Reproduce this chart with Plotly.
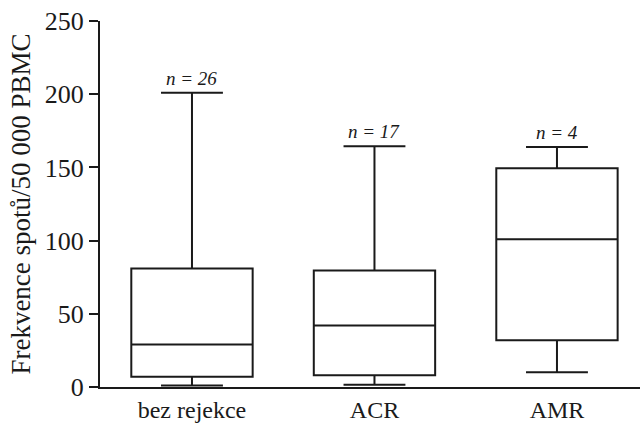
import plotly.graph_objects as go

categories = ["bez rejekce", "ACR", "AMR"]
mins = [1, 1.5, 10]
q1s = [7, 8, 32]
medians = [29, 42, 101]
q3s = [81, 79.5, 149.5]
maxs = [201, 164.5, 164]
n_labels = ["n = 26", "n = 17", "n = 4"]

FONT = "Liberation Serif, Times New Roman, Times, serif"
INK = "#1a1a1a"

fig = go.Figure()
fig.add_trace(go.Box(
    x=categories,
    lowerfence=mins, q1=q1s, median=medians, q3=q3s, upperfence=maxs,
    fillcolor="rgba(255,255,255,0)",
    line=dict(color=INK, width=2),
    whiskerwidth=0.51,
    boxpoints=False,
    showlegend=False,
    hoverinfo="skip",
))

for c, mx, lab in zip(categories, maxs, n_labels):
    fig.add_annotation(
        x=c, y=mx, text="<i>" + lab + "</i>",
        showarrow=False, yanchor="bottom", yshift=2,
        font=dict(family=FONT, size=19, color=INK),
    )

fig.update_layout(
    width=640, height=428,
    margin=dict(l=100, r=0, t=21, b=41),
    paper_bgcolor="white", plot_bgcolor="white",
    boxgap=0.335, boxgroupgap=0,
    font=dict(family=FONT, size=24, color=INK),
)
fig.update_xaxes(
    range=[-0.504, 2.455],
    showline=True, linecolor=INK, linewidth=2,
    ticks="", showgrid=False, zeroline=False,
    tickfont=dict(family=FONT, size=24, color=INK),
)
fig.update_yaxes(
    range=[0, 250], tickvals=[0, 50, 100, 150, 200, 250],
    showline=True, linecolor=INK, linewidth=2,
    ticks="outside", ticklen=9, tickwidth=2, tickcolor=INK,
    showgrid=False, zeroline=False,
    tickfont=dict(family=FONT, size=26, color=INK),
    title=dict(text="Frekvence spotů/50 000 PBMC", font=dict(family=FONT, size=27, color=INK), standoff=6),
)

fig.write_html("out.html")
